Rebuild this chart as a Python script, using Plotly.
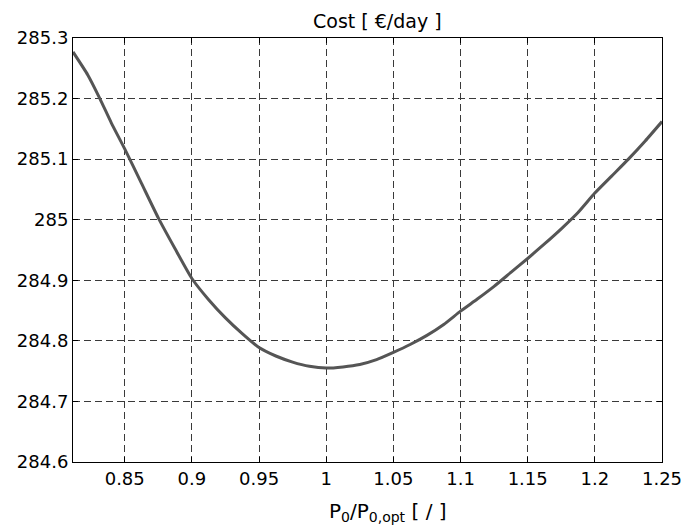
import plotly.graph_objects as go

# Data
ratio = [0.8115, 0.8225, 0.8315, 0.84, 0.85, 0.8625, 0.875, 0.8875, 0.9, 0.9125,
         0.925, 0.9375, 0.95, 0.9625, 0.975, 0.9875, 1.0, 1.0125, 1.025, 1.0375,
         1.05, 1.0625, 1.075, 1.0875, 1.1, 1.1125, 1.125, 1.1375, 1.15, 1.1625,
         1.175, 1.1875, 1.2, 1.2125, 1.225, 1.2375, 1.25]
cost = [285.277, 285.239, 285.200, 285.160, 285.117, 285.060, 285.003, 284.952, 284.903, 284.868,
        284.838, 284.812, 284.789, 284.775, 284.765, 284.758, 284.755, 284.757, 284.761, 284.769,
        284.781, 284.794, 284.809, 284.827, 284.849, 284.869, 284.890, 284.913, 284.936, 284.960,
        284.985, 285.012, 285.044, 285.072, 285.100, 285.130, 285.162]

x_ticks = [0.85, 0.9, 0.95, 1.0, 1.05, 1.1, 1.15, 1.2, 1.25]
x_labels = ["0.85", "0.9", "0.95", "1", "1.05", "1.1", "1.15", "1.2", "1.25"]
y_ticks = [284.6, 284.7, 284.8, 284.9, 285.0, 285.1, 285.2, 285.3]
y_labels = ["284.6", "284.7", "284.8", "284.9", "285", "285.1", "285.2", "285.3"]

FONT = "DejaVu Sans"

fig = go.Figure()
fig.add_trace(go.Scatter(x=ratio, y=cost, mode="lines",
                         line=dict(color="#555555", width=3, shape="spline", smoothing=0.5),
                         showlegend=False, hoverinfo="skip"))

axis_common = dict(showline=True, linecolor="black", linewidth=1, mirror="ticks",
                   ticks="inside", ticklen=5, tickcolor="black", automargin=False,
                   showgrid=True, gridcolor="#3a3a3a", gridwidth=1, griddash="7px,4px",
                   zeroline=False, tickfont=dict(family=FONT, size=18, color="black"))

fig.update_xaxes(range=[0.8115, 1.25], tickvals=x_ticks, ticktext=x_labels, **axis_common)
fig.update_yaxes(range=[284.6, 285.3], tickvals=y_ticks, ticktext=y_labels, **axis_common)

fig.add_annotation(text="P<sub>0</sub>/P<sub>0,opt</sub> [ / ]", xref="paper", yref="paper",
                   x=0.535, y=-0.083, xanchor="center", yanchor="top", showarrow=False,
                   font=dict(family=FONT, size=20, color="black"))

fig.update_layout(
    width=686, height=529,
    margin=dict(l=73, r=24, t=38, b=67, autoexpand=False),
    paper_bgcolor="white", plot_bgcolor="white",
    title=dict(text="Cost [ €/day ]", x=0.55, xanchor="center", y=0.96, yanchor="middle",
               font=dict(family=FONT, size=19, color="black")),
)

fig.write_html("out.html")
